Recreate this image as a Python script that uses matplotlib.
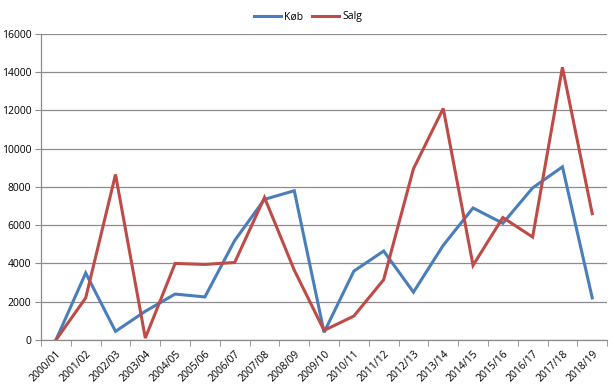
import matplotlib
matplotlib.use("Agg")
import matplotlib.pyplot as plt
import numpy as np

categories = ["2000/01", "2001/02", "2002/03", "2003/04", "2004/05", "2005/06", "2006/07",
              "2007/08", "2008/09", "2009/10", "2010/11", "2011/12", "2012/13", "2013/14",
              "2014/15", "2015/16", "2016/17", "2017/18", "2018/19"]
kob = [0, 3500, 450, 1500, 2400, 2250, 5200, 7350, 7800, 400, 3600, 4650, 2500, 4950,
       6900, 6100, 7950, 9050, 2200]
salg = [0, 2200, 8650, 100, 4000, 3950, 4050, 7450, 3650, 500, 1250, 3150, 8950, 12100,
        3900, 6400, 5380, 14250, 6600]
yticks = [0, 2000, 4000, 6000, 8000, 10000, 12000, 14000, 16000]

plt.rcParams['font.family'] = ['Open Sans', 'DejaVu Sans']

fig = plt.figure(figsize=(6.16, 3.89), dpi=100)
ax = fig.add_axes([0.0666, 0.126, 0.919, 0.787])

x = np.arange(len(categories))
ax.plot(x, kob, color="#4A7EBB", lw=2.2, label="Køb", solid_joinstyle="miter")
ax.plot(x, salg, color="#BE4B48", lw=2.2, label="Salg", solid_joinstyle="miter")

ax.set_xlim(-0.5, len(categories) - 0.5)
ax.set_ylim(0, 16000)
ax.set_yticks(yticks)
ax.set_yticklabels([str(v) for v in yticks], fontsize=7.5)
ax.grid(axis="y", color="#8c8c8c", lw=0.9)
ax.set_axisbelow(True)

ax.set_xticks(x)
ax.set_xticklabels(categories, rotation=45, ha="right", rotation_mode="anchor", fontsize=7.5)
ax.tick_params(axis="x", length=0, pad=6)
ax.set_xticks(np.arange(-0.5, len(categories), 1), minor=True)
ax.tick_params(axis="x", which="minor", length=4, color="#8c8c8c")
ax.tick_params(axis="y", length=4, color="#8c8c8c", pad=3)

for s in ["top", "right"]:
    ax.spines[s].set_visible(False)
for s in ["left", "bottom"]:
    ax.spines[s].set_color("#8c8c8c")
    ax.spines[s].set_linewidth(0.9)

leg = fig.legend(loc="upper center", bbox_to_anchor=(0.5, 0.995), ncol=2, frameon=False,
                 fontsize=7.5, handlelength=2.6, columnspacing=0.8, handletextpad=0.3)

fig.savefig("out.png", dpi=100)
